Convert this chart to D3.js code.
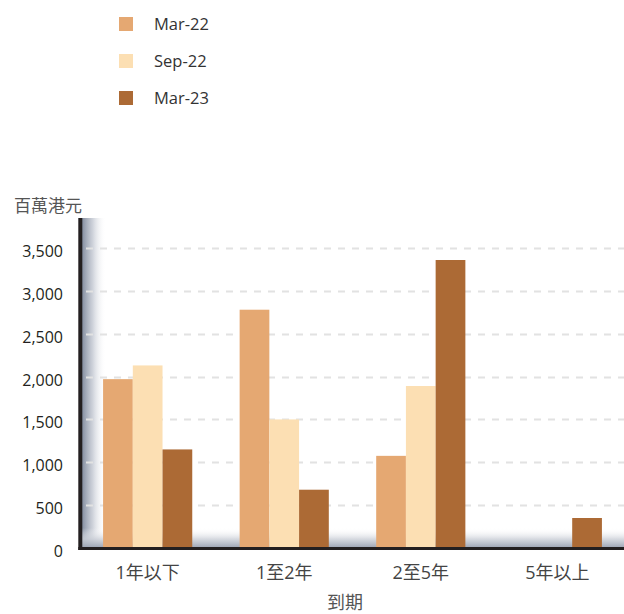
<!DOCTYPE html>
<html>
<head>
<meta charset="utf-8">
<script src="https://cdn.jsdelivr.net/npm/d3@7"></script>
<style>
  body { margin: 0; background: #fff; }
  svg text { font-family: "Open Sans", "Noto Sans CJK TC", sans-serif; }
</style>
</head>
<body>
<div class="chart"></div>
<script>
'use strict'
// Data.
const categories = ['1年以下', '1至2年', '2至5年', '5年以上'];
const seriesNames = ['Mar-22', 'Sep-22', 'Mar-23'];
const mar22 = [1970, 2780, 1075, 0];
const sep22 = [2130, 1500, 1890, 0];
const mar23 = [1150, 680, 3360, 350];
const yTicks = [0, 500, 1000, 1500, 2000, 2500, 3000, 3500];
const colors = ['#e5a872', '#fcdfb3', '#ac6a35'];

const seriesValues = [mar22, sep22, mar23];
const rows = categories.map((c, i) => ({
  cat: c,
  values: seriesNames.map((s, j) => ({ key: s, value: seriesValues[j][i] }))
}));

const W = 624, H = 614;
const plot = { left: 80, right: 624, top: 218, bottom: 548 };

const svg = d3.select('.chart').append('svg')
  .attr('width', W).attr('height', H);

const defs = svg.append('defs');
const gL = defs.append('linearGradient').attr('id', 'shadeL')
  .attr('x1', 0).attr('x2', 1).attr('y1', 0).attr('y2', 0);
gL.append('stop').attr('offset', 0).attr('stop-color', '#838da0').attr('stop-opacity', 1);
gL.append('stop').attr('offset', 0.45).attr('stop-color', '#c3c8d2').attr('stop-opacity', 0.8);
gL.append('stop').attr('offset', 1).attr('stop-color', '#ffffff').attr('stop-opacity', 0);
const gB = defs.append('linearGradient').attr('id', 'shadeB')
  .attr('x1', 0).attr('x2', 0).attr('y1', 1).attr('y2', 0);
gB.append('stop').attr('offset', 0).attr('stop-color', '#9aa2b2').attr('stop-opacity', 1);
gB.append('stop').attr('offset', 0.45).attr('stop-color', '#ccd0d8').attr('stop-opacity', 0.8);
gB.append('stop').attr('offset', 1).attr('stop-color', '#ffffff').attr('stop-opacity', 0);

const y = d3.scaleLinear([0, 3850], [plot.bottom, plot.top]);
const x0 = d3.scaleBand(categories, [80, 625]).paddingInner(0.347).paddingOuter(0.169);
const x1 = d3.scaleBand(seriesNames, [0, x0.bandwidth()]);
const color = d3.scaleOrdinal(seriesNames, colors);

// shading along the axes
svg.append('rect').attr('x', plot.left + 2).attr('y', plot.top).attr('width', 24)
  .attr('height', plot.bottom - plot.top).attr('fill', 'url(#shadeL)');
svg.append('rect').attr('x', plot.left + 2).attr('y', plot.bottom - 20)
  .attr('width', plot.right - plot.left)
  .attr('height', 20).attr('fill', 'url(#shadeB)');

// gridlines
svg.append('g').selectAll('line')
  .data(yTicks.filter(d => d > 0))
  .join('line')
  .attr('x1', plot.left + 6).attr('x2', plot.right)
  .attr('y1', d => Math.round(y(d)) + 0.5).attr('y2', d => Math.round(y(d)) + 0.5)
  .attr('stroke', '#e2e2e2').attr('stroke-width', 2)
  .attr('stroke-dasharray', '7,7');

// bars
svg.append('g').selectAll('g')
  .data(rows)
  .join('g')
  .attr('transform', d => `translate(${x0(d.cat)},0)`)
  .selectAll('rect')
  .data(d => d.values.filter(v => v.value > 0))
  .join('rect')
  .attr('x', d => x1(d.key))
  .attr('y', d => y(d.value))
  .attr('width', x1.bandwidth())
  .attr('height', d => y(0) - y(d.value))
  .attr('fill', d => color(d.key));

// axes lines
svg.append('line').attr('x1', plot.left + 0.3).attr('x2', plot.left + 0.3)
  .attr('y1', plot.top).attr('y2', plot.bottom + 2)
  .attr('stroke', '#231f20').attr('stroke-width', 4);
svg.append('line').attr('x1', plot.left - 1.7).attr('x2', plot.right)
  .attr('y1', plot.bottom + 0.5).attr('y2', plot.bottom + 0.5)
  .attr('stroke', '#231f20').attr('stroke-width', 3);

// y tick labels
svg.append('g').selectAll('text')
  .data(yTicks)
  .join('text')
  .attr('x', 63).attr('y', d => y(d) + 9)
  .attr('text-anchor', 'end')
  .attr('font-size', 16).attr('fill', '#231f20')
  .text(d3.format(','));

// x tick labels
svg.append('g').selectAll('text')
  .data(categories)
  .join('text')
  .attr('x', d => x0(d) + x0.bandwidth() / 2).attr('y', 579)
  .attr('text-anchor', 'middle')
  .attr('font-size', 18).attr('fill', '#444')
  .text(d => d);

// titles
svg.append('text').attr('x', 14).attr('y', 212)
  .attr('font-size', 17).attr('fill', '#555').text('百萬港元');
svg.append('text').attr('x', 345).attr('y', 609).attr('text-anchor', 'middle')
  .attr('font-size', 18).attr('fill', '#555').text('到期');

// legend
const legend = svg.append('g').selectAll('g')
  .data(seriesNames)
  .join('g')
  .attr('transform', (d, i) => `translate(119,${17 + i * 37})`);
legend.append('rect').attr('width', 14).attr('height', 14)
  .attr('fill', d => color(d));
legend.append('text').attr('x', 35).attr('y', 13)
  .attr('font-size', 16.5).attr('fill', '#333').text(d => d);
</script>
</body>
</html>
